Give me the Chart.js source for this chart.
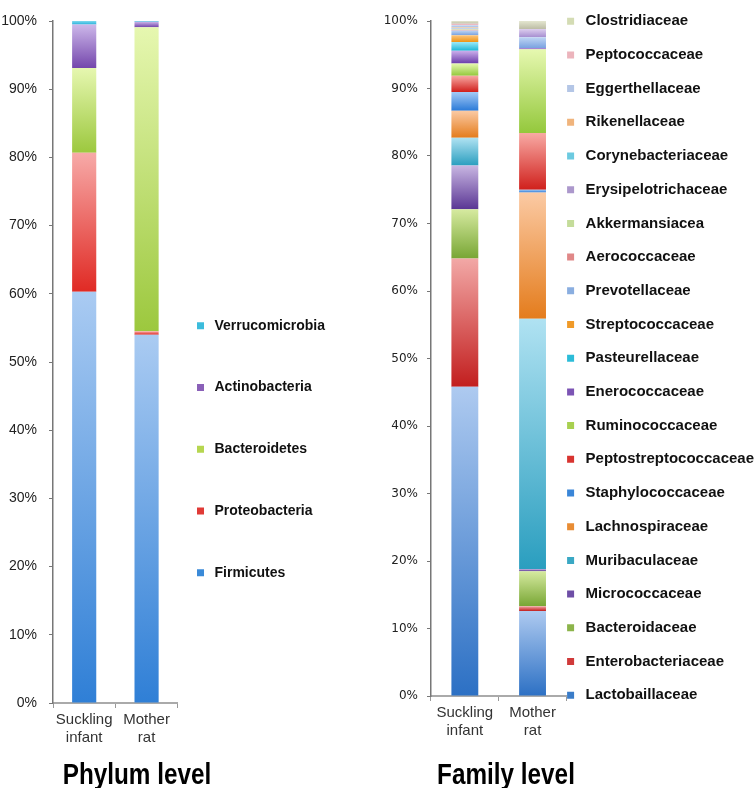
<!DOCTYPE html>
<html>
<head>
<meta charset="utf-8">
<script src="https://cdn.jsdelivr.net/npm/chart.js@4.4.1/dist/chart.umd.min.js"></script>
<style>
  html, body { margin: 0; padding: 0; background: #fff; }
  body { width: 756px; height: 788px; position: relative; overflow: hidden; }
  canvas { position: absolute; top: 0; }
  #phylum { left: 0; }
  #family { left: 370px; }
  .caption {
    position: absolute; top: 759px; color: #000; white-space: nowrap;
    font: bold 30px "Liberation Sans", Arial, sans-serif; line-height: 30px;
    transform: translateX(-50%) scaleX(.81); transform-origin: center;
  }
</style>
</head>
<body>
<canvas id="phylum" width="367" height="788"></canvas>
<canvas id="family" width="416" height="788"></canvas>
<div class="caption" style="left:137px">Phylum level</div>
<div class="caption" style="left:506px">Family level</div>
<script>
// two samples, bottom of the stack first
const groups = [['Suckling', 'infant'], ['Mother', 'rat']];

const phylumNames = ['Firmicutes', 'Proteobacteria', 'Bacteroidetes', 'Actinobacteria', 'Verrucomicrobia'];
const phylumSuckling = [60.3, 20.4, 12.4, 6.4, 0.5];
const phylumMother = [54.0, 0.5, 44.6, 0.8, 0.1];
// [top of segment, bottom of segment, legend swatch]
const phylumColors = [
  ['#aacbf2', '#2f7fd6', '#3a8ad8'],
  ['#f7aaa8', '#e02a24', '#e03a36'],
  ['#e6f7b0', '#9cc83e', '#b6d650'],
  ['#cdb8ea', '#7446ac', '#8a60b8'],
  ['#7fd8ee', '#2ab4dc', '#3cbcdc']
];

const familyNames = ['Lactobaillaceae', 'Enterobacteriaceae', 'Bacteroidaceae', 'Micrococcaceae',
  'Muribaculaceae', 'Lachnospiraceae', 'Staphylococcaceae', 'Peptostreptococcaceae',
  'Ruminococcaceae', 'Enerococcaceae', 'Pasteurellaceae', 'Streptococcaceae', 'Prevotellaceae',
  'Aerococcaceae', 'Akkermansiacea', 'Erysipelotrichaceae', 'Corynebacteriaceae', 'Rikenellaceae',
  'Eggerthellaceae', 'Peptococcaceae', 'Clostridiaceae'];
const familySuckling = [45.8, 19.0, 7.3, 6.5, 4.1, 4.0, 2.8, 2.4, 1.8, 1.9, 1.3, 1.0, 0.7,
  0.1, 0.1, 0.1, 0.1, 0.1, 0.3, 0.2, 0.4];
const familyMother = [12.6, 0.7, 5.2, 0.3, 37.1, 18.7, 0.4, 8.4, 12.4, 0.2, 0, 0, 1.6,
  0, 0, 1.2, 0, 0, 0, 0, 1.2];
const familyColors = [
  ['#aecaf0', '#2c70c4', '#3a7cc8'],
  ['#f2a8a6', '#c21e1e', '#d03a3a'],
  ['#d6eaa0', '#78a634', '#8cb44a'],
  ['#c8b6e2', '#5a3694', '#6e4ea6'],
  ['#b0e2f2', '#2a9ebf', '#3aa8c4'],
  ['#fbcaa4', '#e47c1c', '#e88c34'],
  ['#a6cbf6', '#2a7ad8', '#3a86d8'],
  ['#f8aaa4', '#d0201c', '#d83430'],
  ['#e6f8b0', '#94c83c', '#a8d050'],
  ['#ccb0ec', '#6a3caa', '#7c54b4'],
  ['#9eeaf8', '#1cb6d6', '#2cbcd8'],
  ['#fcc680', '#ee9416', '#f09a28'],
  ['#c0d6f4', '#7aa2e0', '#8aaee0'],
  ['#f4c0c0', '#e07a7a', '#e08888'],
  ['#e6f0c4', '#bcd690', '#c4dc9a'],
  ['#dccdee', '#a68ed0', '#ac98cc'],
  ['#bfe8f4', '#5ec4de', '#6ccae0'],
  ['#fad8bc', '#f0a86a', '#f0b47c'],
  ['#d8e2f4', '#a8bce2', '#b4c6e6'],
  ['#f6d4d8', '#e6a6b2', '#ecb4bc'],
  ['#e4e6d0', '#bcbca4', '#d4dcb4']
];

// moves the legend block after chart layout
const nudgeLegend = {
  id: 'nudgeLegend',
  afterLayout(chart, args, opts) {
    const lg = chart.legend;
    if (!lg) return;
    lg.left += opts.dx; lg.right += opts.dx;
    lg.top += opts.dy; lg.bottom += opts.dy;
  }
};

// vertical light-to-dark gradient over each stacked segment
function shade(colors) {
  return ctx => {
    const chart = ctx.chart;
    const y = chart.scales.y;
    if (ctx.type !== 'data' || !y || !chart.chartArea) return colors[1];
    const sets = chart.data.datasets;
    let base = 0;
    for (let k = 0; k < ctx.datasetIndex; k++) base += sets[k].data[ctx.dataIndex];
    const top = y.getPixelForValue(base + ctx.raw);
    const bottom = y.getPixelForValue(base);
    if (!isFinite(top) || !isFinite(bottom) || bottom - top < 0.5) return colors[1];
    const g = chart.ctx.createLinearGradient(0, top, 0, bottom);
    g.addColorStop(0, colors[0]);
    g.addColorStop(1, colors[1]);
    return g;
  };
}

function stackedChart(id, names, suckling, mother, colors, cfg) {
  const datasets = names.map((name, i) => ({
    label: name,
    data: [suckling[i], mother[i]],
    backgroundColor: shade(colors[i]),
    borderWidth: 0,
    barPercentage: cfg.bar,
    categoryPercentage: 1
  }));
  return new Chart(document.getElementById(id), {
    type: 'bar',
    data: { labels: groups, datasets },
    plugins: [nudgeLegend],
    options: {
      responsive: false,
      animation: false,
      layout: { padding: { top: 21, bottom: 0, left: 0, right: 0 } },
      scales: {
        x: {
          stacked: true,
          afterFit: s => { s.height = cfg.xHeight; },
          grid: { offset: true, drawOnChartArea: false, tickLength: 5, color: '#999' },
          border: { color: '#aaa', width: 2 },
          ticks: { color: '#333', padding: 3, maxRotation: 0, font: { family: 'Liberation Sans', size: 15 } }
        },
        y: {
          stacked: true, min: 0, max: 100,
          afterFit: s => { s.width = cfg.yWidth; },
          grid: { drawOnChartArea: false, tickLength: 4, color: '#777' },
          border: { color: '#777', width: 1.5 },
          ticks: { stepSize: 10, color: '#222', padding: cfg.yPad, font: cfg.yFont, callback: v => v + '%' }
        }
      },
      plugins: {
        tooltip: { enabled: false },
        nudgeLegend: { dx: cfg.dx, dy: cfg.dy },
        legend: {
          position: 'right', align: 'start', reverse: true, maxWidth: 400,
          labels: {
            usePointStyle: true, pointStyle: 'rect', boxHeight: 7,
            padding: cfg.legendPad, color: '#111',
            font: { family: 'Liberation Sans', size: cfg.legendSize, weight: 'bold' },
            generateLabels: chart => Chart.defaults.plugins.legend.labels.generateLabels(chart).map(item => ({
              ...item, fillStyle: colors[item.datasetIndex][2], strokeStyle: 'rgba(0,0,0,0)', lineWidth: 0
            }))
          }
        }
      }
    }
  });
}

stackedChart('phylum', phylumNames, phylumSuckling, phylumMother, phylumColors, {
  bar: 0.387, xHeight: 85, yWidth: 53, yPad: 12,
  yFont: { family: 'Liberation Sans', size: 14 },
  legendPad: 47.75, legendSize: 14, dx: -32, dy: 250
});

stackedChart('family', familyNames, familySuckling, familyMother, familyColors, {
  bar: 0.397, xHeight: 92, yWidth: 61, yPad: 9,
  yFont: { family: 'DejaVu Sans', size: 12 },
  legendPad: 18.7, legendSize: 15, dx: -22, dy: -26
});
</script>
</body>
</html>
